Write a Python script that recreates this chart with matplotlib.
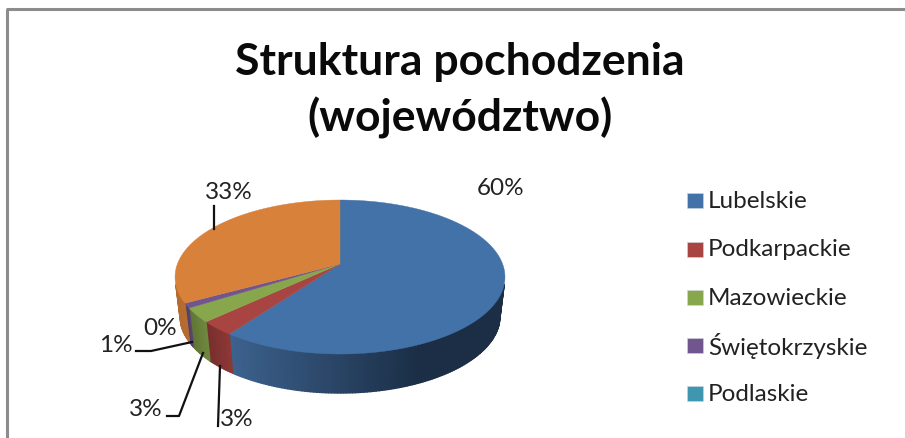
import numpy as np
import matplotlib
matplotlib.use('Agg')
import matplotlib.pyplot as plt
from matplotlib.patches import Polygon, Rectangle
from matplotlib.colors import to_rgb

categories = ['Lubelskie', 'Podkarpackie', 'Mazowieckie', 'Świętokrzyskie', 'Podlaskie', '']
values = [60, 3, 3, 1, 0, 33]
pct_labels = ['60%', '3%', '3%', '1%', '0%', '33%']
colors = ['#4372a8', '#a84442', '#88a64c', '#70558f', '#3f97af', '#d8813b']
side_light = ['#3c628e', '#8c3836', '#6f883e', '#5c4675', '#337b8f', '#b56c30']
side_dark = ['#1b2e46', '#742d2c', '#5c7233', '#47365a', '#285f6f', '#a8642c']

plt.rcParams['font.family'] = ['Lato', 'DejaVu Sans']
fig = plt.figure(figsize=(9.05, 4.39), dpi=100)
ax = fig.add_axes([0, 0, 1, 1])
ax.set_xlim(0, 905)
ax.set_ylim(439, 0)
ax.axis('off')

# frame
ax.plot([7, 7], [439, 10], color='#8c8c8c', lw=2.2, solid_capstyle='butt')
ax.plot([6, 905], [10, 10], color='#8c8c8c', lw=2.2, solid_capstyle='butt')

ax.text(460, 62, 'Struktura pochodzenia', fontsize=32, fontweight='bold', ha='center', va='center', color='#0a0a0a')
ax.text(460, 118, '(województwo)', fontsize=32, fontweight='bold', ha='center', va='center', color='#0a0a0a')

# pie with some perspective: circle -> screen
cx, cy = 340, 265
b, a, k = 162.6, 74.8, 0.169
depth = 39
shrink = 0.97  # lower rim is a bit narrower


def project(ang):
    u, v = np.cos(ang), -np.sin(ang)
    d = 1 - k * v
    return cx + b * u / d, cy + a * v / d


edges = 90 - np.cumsum([0] + values) * 3.6
for i in range(len(values)):
    if values[i] == 0:
        continue
    t = np.radians(np.linspace(edges[i], edges[i + 1], max(4, values[i] * 4)))
    px, py = project(t)
    lowx = cx + (px - cx) * shrink
    lowy = py + depth
    # side wall, only the part facing us
    c1, c2 = np.array(to_rgb(side_light[i])), np.array(to_rgb(side_dark[i]))
    for j in range(len(t) - 1):
        if np.sin(t[j]) > -0.25 or np.sin(t[j + 1]) > -0.25:
            continue
        f = np.clip((px[j] - 230) / 190, 0, 1) if i == 0 else j / len(t)
        col = c1 + (c2 - c1) * f
        ax.add_patch(Polygon([(px[j], py[j]), (px[j + 1], py[j + 1]),
                              (lowx[j + 1], lowy[j + 1]), (lowx[j], lowy[j])],
                             closed=True, fc=col, ec=col, lw=1.0, zorder=2))
    ax.add_patch(Polygon(np.vstack([[cx, cy], np.column_stack([px, py])]), closed=True,
                         fc=colors[i], ec=colors[i], lw=0.3, zorder=3))

# percent labels
lab_xy = [(501, 189), (237, 420), (146, 410), (116, 346), (160, 329), (229, 193)]
for s, (x, y) in zip(pct_labels, lab_xy):
    ax.text(x, y, s, fontsize=17.5, ha='center', va='center', color='#222222', zorder=6)

# leader lines
leaders = [([214, 214], [207, 230]),
           ([218, 220], [427, 367]),
           ([167, 179, 203], [417, 417, 354]),
           ([136, 151, 192], [352, 352, 343])]
for lx, ly in leaders:
    ax.plot(lx, ly, color='#111111', lw=1.6, zorder=5)

# legend
leg_y = [201.5, 250, 298.5, 346.5, 395]
for name, col, y in zip(categories, colors, leg_y):
    ax.add_patch(Rectangle((687, y - 7.5), 16, 15, fc=col, ec='#d0d8e0', lw=0.4))
    ax.text(708, y, name, fontsize=17.5, ha='left', va='center', color='#222222')

fig.savefig('out.png', dpi=100)
